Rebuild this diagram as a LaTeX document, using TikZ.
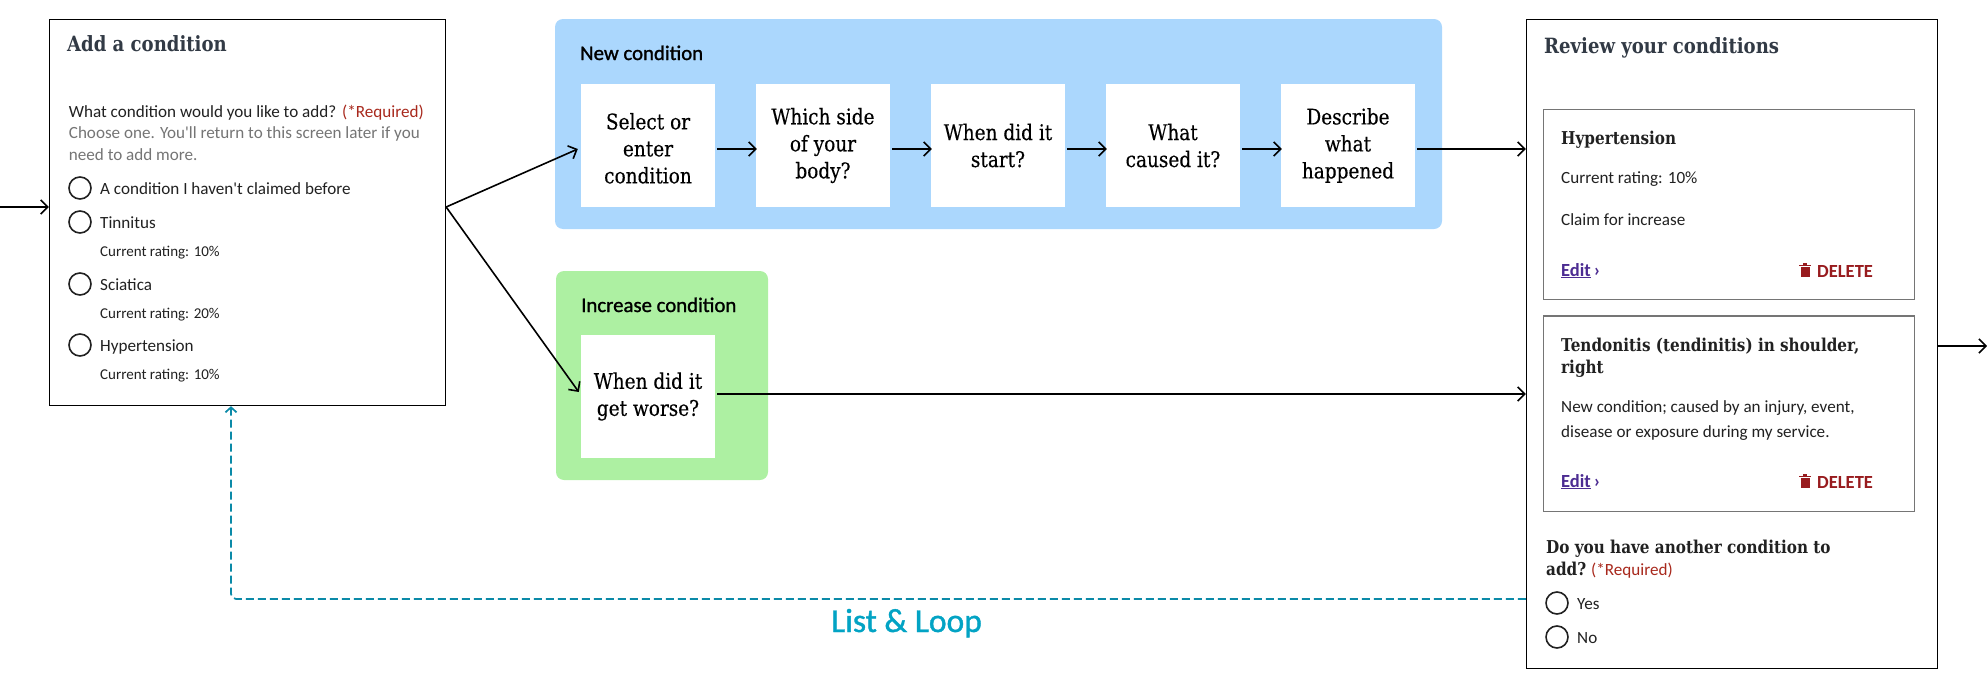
\documentclass[tikz,border=0pt]{standalone}
\usepackage{fontspec}
\usetikzlibrary{arrows.meta}
\newfontfamily\sansface{Carlito}
\newfontfamily\mediumface{Carlito}[FakeBold=1.2]
\newfontfamily\slabface{DejaVu Serif}[FakeStretch=0.86]
\newfontfamily\stepface{DejaVu Serif}[FakeStretch=0.86,FakeBold=0.3]
\definecolor{panelblue}{HTML}{ABD7FD}
\definecolor{panelgreen}{HTML}{ADF0A2}
\definecolor{inkdark}{HTML}{212121}
\definecolor{inktitle}{HTML}{323A45}
\definecolor{inkgray}{HTML}{757575}
\definecolor{inkred}{HTML}{A8281C}
\definecolor{deletered}{HTML}{981B1E}
\definecolor{editpurple}{HTML}{4C2C92}
\definecolor{looptealine}{HTML}{0B8AA8}
\definecolor{looptext}{HTML}{02A3C4}
\tikzset{
    screenbox/.style={draw=black, line width=1.3pt, fill=white, inner sep=0pt},
    cardbox/.style={draw=inkgray, line width=1.3pt, inner sep=0pt, minimum width=371pt},
    panelbox/.style={rounded corners=8pt, inner sep=0pt, minimum height=210pt},
    stepbox/.style={fill=white, inner sep=0pt, minimum width=134pt, minimum height=123pt,
        align=center, text=black, font=\stepface\fontsize{21.5}{27}\selectfont},
    radiodot/.style={circle, draw=inkdark, line width=1.6pt, inner sep=0pt, minimum size=22pt},
    bodytext/.style={anchor=base west, inner sep=0pt, text=inkdark, font=\sansface\fontsize{17.1}{20}\selectfont},
    smalltext/.style={bodytext, font=\sansface\fontsize{15}{18}\selectfont},
    paneltext/.style={bodytext, text=black, font=\mediumface\fontsize{20.8}{24}\selectfont},
    titletext/.style={anchor=base west, inner sep=0pt, text=inktitle, font=\slabface\bfseries\fontsize{21}{24}\selectfont},
    cardtitle/.style={anchor=base west, inner sep=0pt, text=inkdark, font=\slabface\bfseries\fontsize{17.7}{20}\selectfont},
    edittext/.style={anchor=base west, inner sep=0pt, text=editpurple, font=\sansface\bfseries\fontsize{18.5}{20}\selectfont},
    deletetext/.style={anchor=base west, inner sep=0pt, text=deletered, font=\sansface\bfseries\fontsize{18.5}{20}\selectfont},
    flowarrow/.style={line width=1.6pt, -{Straight Barb[length=7pt,width=14pt]}},
    looparrow/.style={line width=1.7pt, looptealine, dash pattern=on 8pt off 4pt, rounded corners=5pt,
        -{Straight Barb[length=5pt,width=11pt]}},
}

\begin{document}
\begin{tikzpicture}[x=1pt, y=-1pt]
    \useasboundingbox (0,0) rectangle (1987,688);

    % Screens
    \node[screenbox, minimum width=396pt, minimum height=386pt] (addbox) at (247.5,212.5) {};
    \node[screenbox, minimum width=411pt, minimum height=649pt] (reviewbox) at (1732,344) {};

    % Coloured panels
    \node[panelbox, fill=panelblue, minimum width=887pt] (newpanel) at (998.5,124) {};
    \node[panelbox, fill=panelgreen, minimum width=212pt, minimum height=209pt] (increasepanel) at (662,375.5) {};
    \node[paneltext] (newlabel) at (580,60) {New condition};
    \node[paneltext] (increaselabel) at (581,312) {Increase condition};

    % Question steps
    \node[stepbox] (selectbox) at (648,145.5) {\rule{0pt}{22pt}Select or\\enter\\condition};
    \node[stepbox] (sidebox) at (823,145.5) {Which side\\of your\\body?};
    \node[stepbox] (startbox) at (998,145.5) {When did it\\start?};
    \node[stepbox] (causebox) at (1173,145.5) {What\\caused it?};
    \node[stepbox] (describebox) at (1348,145.5) {Describe\\what\\happened};
    \node[stepbox] (worsebox) at (648,396.5) {When did it\\get worse?};

    % Free ends and turning points
    \coordinate (entry) at (0,207);
    \coordinate (exit) at (1987,346);
    \coordinate (addout) at (addbox.east |- entry);
    \coordinate (describeout) at ([shift={(2,3.5)}]describebox.east);
    \coordinate (worseout) at ([shift={(2,-2.5)}]worsebox.east);
    \coordinate (loopturn) at (231,599);

    % Connectors
    \draw[flowarrow] (entry) -- (entry -| addbox.west);
    \draw[flowarrow] (addout) -- ([shift={(-3,3.5)}]selectbox.west);
    \draw[flowarrow] (addout) -- ([shift={(-2,-4.5)}]worsebox.west);
    \foreach \a/\b in {selectbox/sidebox, sidebox/startbox, startbox/causebox, causebox/describebox} {
        \draw[flowarrow] ([shift={(2,3.5)}]\a.east) -- ([shift={(1,3.5)}]\b.west);
    }
    \draw[flowarrow] (describeout) -- (describeout -| reviewbox.west);
    \draw[flowarrow] (worseout) -- (worseout -| reviewbox.west);
    \draw[flowarrow] (reviewbox.east |- exit) -- (exit);
    \draw[looparrow] (loopturn -| reviewbox.west) -- (loopturn) -- (loopturn |- addbox.south);
    \node[anchor=base west, inner sep=0pt, text=looptext, font=\mediumface\fontsize{33.5}{38}\selectfont] (looplabel) at (831,632) {List \& Loop};

    % Add a condition screen
    \node[titletext] (addtitle) at (67,51) {Add a condition};
    \node[bodytext] (addquestion) at (68.7,117) {What condition would you like to add?};
    \node[bodytext, text=inkred] (addrequired) at (342,117) {(*Required)};
    \node[bodytext, text=inkgray] (addhintone) at (68.7,138) {Choose one. You'll return to this screen later if you};
    \node[bodytext, text=inkgray] (addhinttwo) at (68.7,160) {need to add more.};
    \foreach \n/\y/\lab in {a/188/A condition I haven't claimed before, b/222/Tinnitus, c/284/Sciatica, d/345/Hypertension} {
        \node[radiodot] (radio\n) at (80,\y) {};
        \node[bodytext] (option\n) at (100,\y+6) {\lab};
    }
    \node[smalltext] (ratingb) at (100,256) {Current rating: 10\%};
    \node[smalltext] (ratingc) at (100,318) {Current rating: 20\%};
    \node[smalltext] (ratingd) at (100,379) {Current rating: 10\%};

    % Review screen
    \node[titletext] (reviewtitle) at (1544,53.5) {Review your conditions};
    \node[cardbox, minimum height=190pt] (cardone) at (1729,204.5) {};
    \node[cardbox, minimum height=195.5pt] (cardtwo) at (1729,413.75) {};

    \node[cardtitle] (hypertitle) at (1561,144) {Hypertension};
    \node[bodytext] (hyperrating) at (1561,183) {Current rating: 10\%};
    \node[bodytext] (hyperclaim) at (1561,225) {Claim for increase};

    \node[cardtitle] (tendontitle) at (1561,351) {Tendonitis (tendinitis) in shoulder,};
    \node[cardtitle] (tendonright) at (1561,373) {right};
    \node[bodytext] (tendonone) at (1561,412) {New condition; caused by an injury, event,};
    \node[bodytext] (tendontwo) at (1561,437) {disease or exposure during my service.};

    % Edit and delete links
    \foreach \n/\y in {one/276, two/487} {
        \node[edittext] (edit\n) at (1561,\y) {\underline{Edit}\,›};
        \node[deletetext] (delete\n) at (1817,\y+1) {DELETE};
        \fill[deletered] (1800.5,\y-9) rectangle (1809.5,\y+1);
        \fill[deletered] (1799,\y-11.5) rectangle (1811,\y-10);
        \fill[deletered] (1803,\y-13) rectangle (1807,\y-11);
    }

    % Another condition question
    \node[cardtitle] (anotherone) at (1546,553) {Do you have another condition to};
    \node[cardtitle] (anothertwo) at (1546,575) {add?};
    \node[bodytext, text=inkred] (anotherrequired) at (1591,575) {(*Required)};
    \node[radiodot] (radioyes) at (1557,603) {};
    \node[bodytext] (optionyes) at (1577,609) {Yes};
    \node[radiodot] (radiono) at (1557,637) {};
    \node[bodytext] (optionno) at (1577,643) {No};
\end{tikzpicture}
\end{document}
